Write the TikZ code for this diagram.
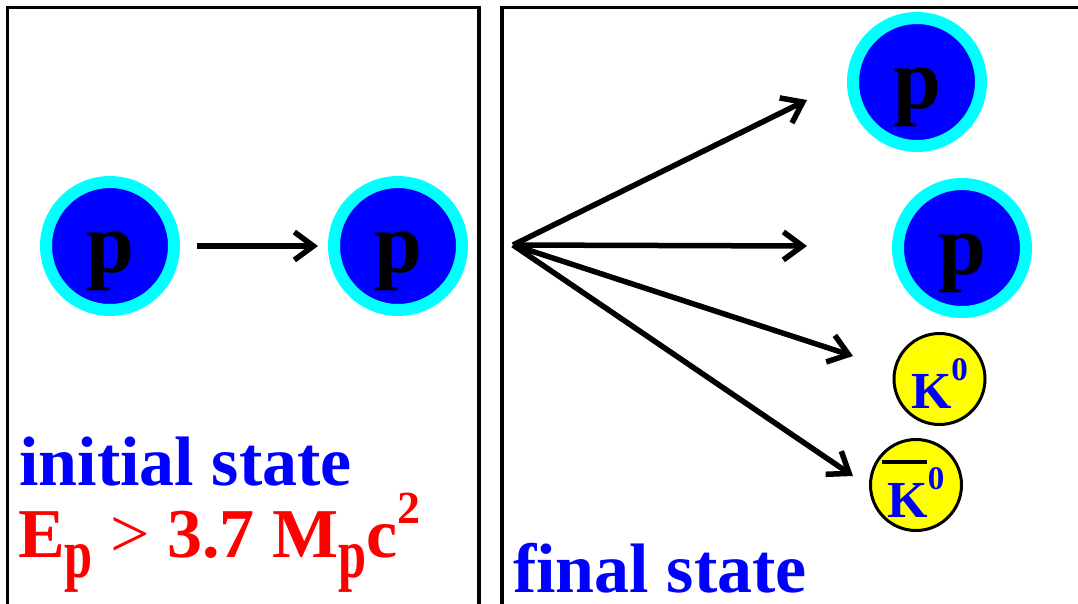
\documentclass[tikz,border=0pt]{standalone}
\usepackage{fontspec}
\usepackage{graphicx}
\setmainfont{Liberation Serif}
\usetikzlibrary{arrows.meta}
\definecolor{pblue}{RGB}{0,0,255}
\definecolor{pcyan}{RGB}{0,255,255}
\definecolor{pyellow}{RGB}{255,255,0}
\definecolor{pred}{RGB}{255,0,0}
\newcommand\subpp{\raisebox{-20pt}{\scalebox{0.72}[1]{p}}}
\newcommand\supii{\raisebox{34pt}{\fontsize{46}{46}\selectfont 2}}
\newcommand\supzero{\raisebox{28pt}{\fontsize{33}{33}\selectfont 0}}
\newcommand\kbar{\makebox[0pt][l]{\hspace{-6pt}\raisebox{53pt}{\color{black}\rule{45pt}{4pt}}}}
\tikzset{
  frame/.style={draw=black, line width=3.5pt},
  proton/.style={circle, draw=pcyan, fill=pblue, line width=12pt, minimum size=128pt,
    inner sep=0pt, outer sep=0pt, text=black,
    font=\fontsize{86}{86}\selectfont\bfseries, text height=52pt, text depth=0pt},
  kaon/.style={circle, draw=black, fill=pyellow, line width=3pt, minimum size=91pt,
    inner sep=0pt, outer sep=0pt, text=pblue,
    font=\fontsize{52}{52}\selectfont\bfseries, text depth=0pt},
  arr/.style={draw=black, line width=5.5pt, -{Straight Barb[length=19pt,width=28pt]}},
  label/.style={anchor=base west, inner sep=0pt, text depth=0pt, font=\fontsize{70}{70}\selectfont\bfseries}
}
\begin{document}
\begin{tikzpicture}[x=1pt,y=-1pt]
\useasboundingbox (0,0) rectangle (1078,603);
\begin{scope}
  \clip (0,0) rectangle (1078,603);
  \draw[frame] (7.5,7.5) rectangle (479,650);
  \draw[frame] (502,7.5) rectangle (1100,650);
\end{scope}
\node[proton] (p1) at (110,246) {p};
\node[proton] (p2) at (398,246) {p};
\node[proton] (p3) at (917,82) {p};
\node[proton] (p4) at (962,248) {p};
\node[kaon, text height=58pt] (k1) at (939.5,379) {K\supzero};
\node[kaon, text height=64pt] (k2) at (916,485) {\kbar K\supzero};
\draw[arr, shorten <=23pt, shorten >=16pt] (p1) -- (p2);
\coordinate (o) at (513,245);
\coordinate (t1) at (807,100);
\coordinate (t2) at (807,246);
\coordinate (t3) at (853,356);
\coordinate (t4) at (853,476);
\draw[arr] (o) -- (t1);
\draw[arr] (o) -- (t2);
\draw[arr] (o) -- (t3);
\draw[arr] (o) -- (t4);
\node[label, text=pblue] (init) at (19,485) {initial state};
\node[label, text=pred] (cond) at (18,557) {E\subpp{} {\mdseries >} 3.7 M\subpp c\supii};
\node[label, text=pblue] (fin) at (513,592.6) {final state};
\end{tikzpicture}
\end{document}
